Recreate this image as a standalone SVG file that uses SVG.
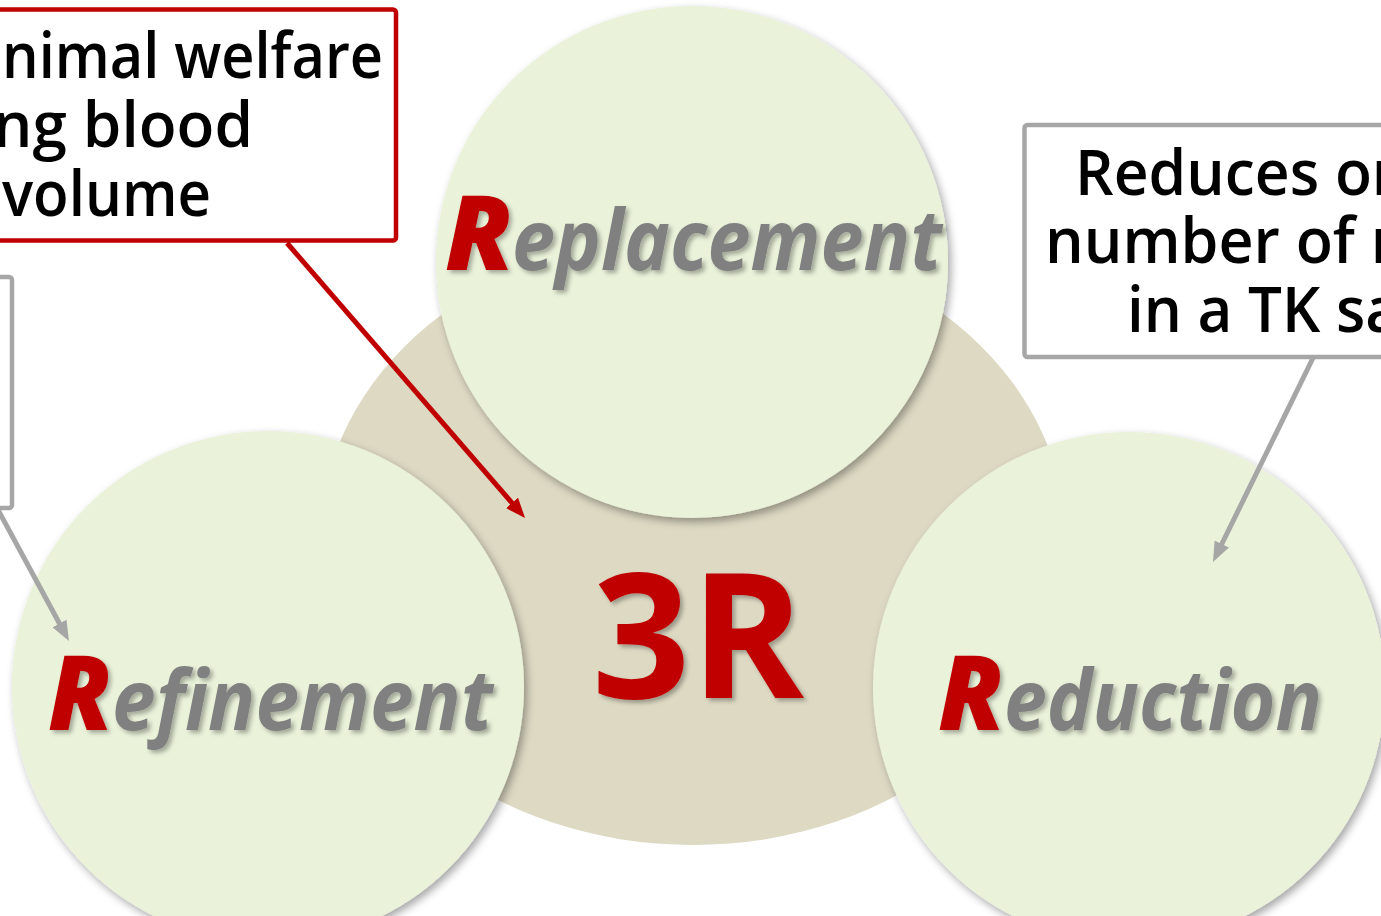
<svg xmlns="http://www.w3.org/2000/svg" width="1381" height="916" viewBox="0 0 1381 916">
  <defs>
    <filter id="cshadow" x="-20%" y="-20%" width="140%" height="140%">
      <feDropShadow dx="3" dy="4" stdDeviation="4" flood-color="#000" flood-opacity="0.35"/>
    </filter>
    <filter id="tshadow" x="-20%" y="-20%" width="140%" height="140%">
      <feDropShadow dx="3" dy="3" stdDeviation="2" flood-color="#000" flood-opacity="0.3"/>
    </filter>
    <marker id="arrRed" markerUnits="userSpaceOnUse" markerWidth="20" markerHeight="16" refX="10" refY="8" orient="auto">
      <path d="M0,0 L20,8 L0,16 Z" fill="#C00000"/>
    </marker>
    <marker id="arrGray" markerUnits="userSpaceOnUse" markerWidth="20" markerHeight="16" refX="10" refY="8" orient="auto">
      <path d="M0,0 L20,8 L0,16 Z" fill="#A6A6A6"/>
    </marker>
  </defs>
  <style>
    .petal { fill: #EAF2DA; filter: url(#cshadow); }
    .bigR { font-family: "Open Sans", "Noto Sans", sans-serif; font-weight: 800; font-style: italic; font-size: 104px; fill: #C00000; filter: url(#tshadow); }
    .word { font-family: "Open Sans", "Noto Sans", sans-serif; font-weight: 700; font-style: italic; font-size: 84px; fill: #808080; filter: url(#tshadow); }
    .box { fill: #FFFFFF; stroke-width: 4.5; }
    .btxt { font-family: "Open Sans", "Noto Sans", sans-serif; font-weight: 600; font-size: 64px; fill: #000000; }
    .conn { fill: none; stroke-width: 5; }
  </style>
  <rect width="1381" height="916" fill="#FFFFFF"/>

  <g id="core">
    <ellipse cx="693" cy="540" rx="373" ry="305" fill="#DDD9C3"/>
    <text x="592" y="698" font-family="'Open Sans', 'Noto Sans', sans-serif" font-weight="700" font-size="175" fill="#C00000" textLength="212" lengthAdjust="spacingAndGlyphs" filter="url(#tshadow)">3R</text>
  </g>

  <g id="replacement">
    <circle class="petal" cx="692" cy="262" r="256"/>
    <text class="bigR" x="445" y="270" textLength="68" lengthAdjust="spacingAndGlyphs">R</text>
    <text class="word" x="512" y="270" textLength="430" lengthAdjust="spacingAndGlyphs">eplacement</text>
  </g>

  <g id="refinement">
    <circle class="petal" cx="268" cy="687" r="256"/>
    <text class="bigR" x="48" y="730" textLength="64" lengthAdjust="spacingAndGlyphs">R</text>
    <text class="word" x="112" y="730" textLength="381" lengthAdjust="spacingAndGlyphs">efinement</text>
  </g>

  <g id="reduction">
    <circle class="petal" cx="1129" cy="688" r="256"/>
    <text class="bigR" x="938" y="730" textLength="66" lengthAdjust="spacingAndGlyphs">R</text>
    <text class="word" x="1004" y="730" textLength="318" lengthAdjust="spacingAndGlyphs">eduction</text>
  </g>

  <g id="refinement-note">
    <rect class="box" x="-20" y="9.5" width="416" height="231" rx="3" stroke="#C00000"/>
    <text class="btxt" x="2" y="78" textLength="381" lengthAdjust="spacingAndGlyphs">nimal welfare</text>
    <text class="btxt" x="-7" y="147" textLength="260" lengthAdjust="spacingAndGlyphs">ng blood</text>
    <text class="btxt" x="2" y="216" textLength="209" lengthAdjust="spacingAndGlyphs">volume</text>
  </g>

  <g id="left-note">
    <rect class="box" x="-20" y="277" width="32" height="231" rx="3" stroke="#A6A6A6"/>
  </g>

  <g id="reduction-note">
    <rect class="box" x="1024.5" y="125" width="400" height="232" rx="3" stroke="#A6A6A6"/>
    <text class="btxt" x="1075" y="195" textLength="323" lengthAdjust="spacingAndGlyphs">Reduces or</text>
    <text class="btxt" x="1045" y="263" textLength="352" lengthAdjust="spacingAndGlyphs">number of r</text>
    <text class="btxt" x="1127" y="332" textLength="273" lengthAdjust="spacingAndGlyphs">in a TK sa</text>
  </g>

  <g id="connectors">
    <line class="conn" x1="287" y1="243" x2="518.5" y2="510.4" stroke="#C00000" marker-end="url(#arrRed)"/>
    <line class="conn" x1="1313" y1="358" x2="1217.4" y2="553" stroke="#A6A6A6" marker-end="url(#arrGray)"/>
    <line class="conn" x1="-3" y1="508" x2="64.2" y2="632.2" stroke="#A6A6A6" marker-end="url(#arrGray)"/>
  </g>
</svg>
